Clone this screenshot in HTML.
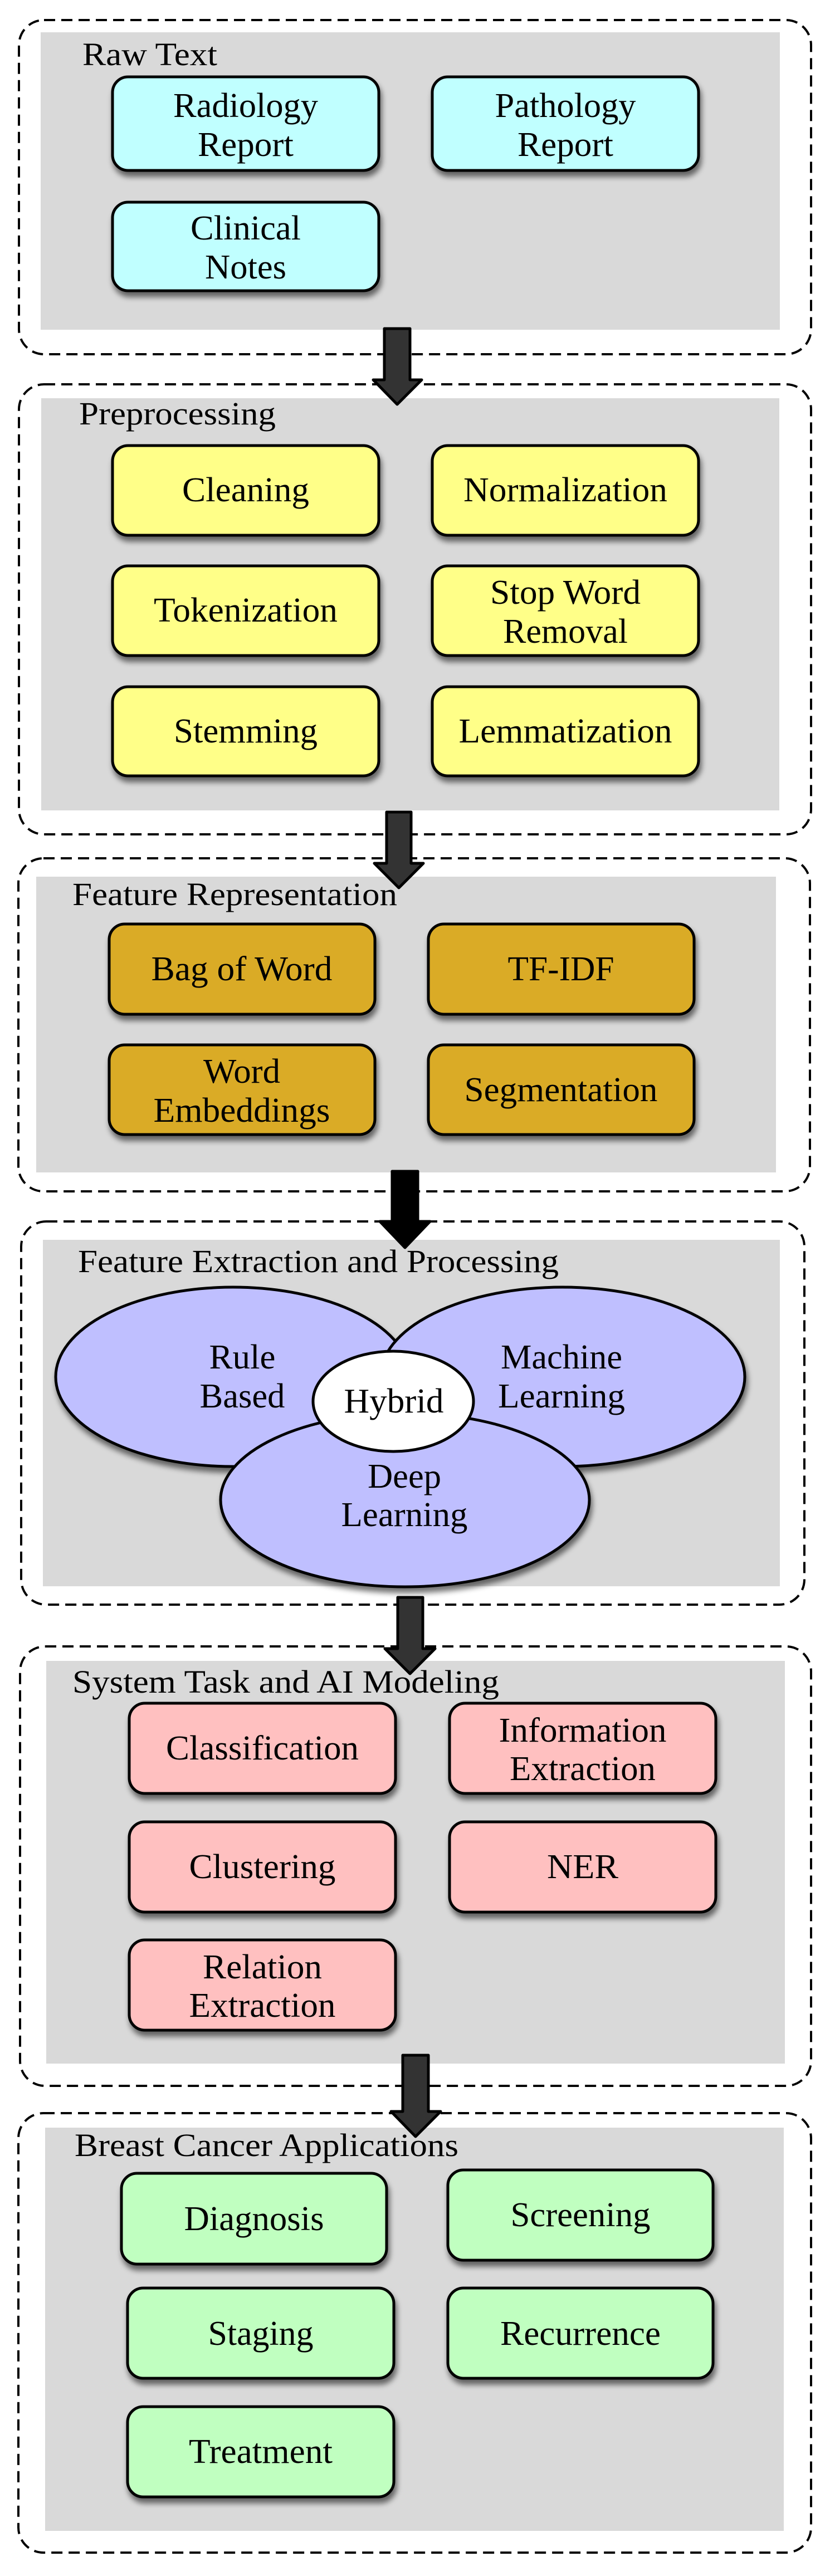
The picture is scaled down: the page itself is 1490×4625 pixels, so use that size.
<!DOCTYPE html>
<html><head><meta charset="utf-8"><style>
html,body{margin:0;padding:0;background:#fff;}
svg{display:block;}
text{font-family:"Liberation Serif","Times New Roman",Times,serif;fill:#000;}
.t{font-size:58px;}
.n{font-size:62px;text-anchor:middle;}
</style></head><body>
<svg width="1490" height="4625" viewBox="0 0 1490 4625" xmlns="http://www.w3.org/2000/svg">
<defs>
<filter id="sh" x="-10%" y="-10%" width="120%" height="140%">
<feGaussianBlur in="SourceAlpha" stdDeviation="5"/>
<feOffset dx="3" dy="9" result="b"/>
<feComponentTransfer><feFuncA type="linear" slope="0.55"/></feComponentTransfer>
<feMerge><feMergeNode/><feMergeNode in="SourceGraphic"/></feMerge>
</filter>
</defs>
<g fill="#d9d9d9">
<rect x="73" y="58" width="1327" height="534"/>
<rect x="74" y="715" width="1325" height="740"/>
<rect x="65" y="1574" width="1328" height="531"/>
<rect x="77" y="2226" width="1323" height="622"/>
<rect x="83" y="2982" width="1326" height="723"/>
<rect x="81" y="3820" width="1326" height="724"/>
</g>
<g fill="none" stroke="#000" stroke-width="4" stroke-dasharray="20 11">
<rect x="34" y="36" width="1422" height="600" rx="45"/>
<rect x="34" y="690" width="1422" height="808" rx="45"/>
<rect x="33" y="1541" width="1421" height="598" rx="45"/>
<rect x="38" y="2193" width="1406" height="688" rx="45"/>
<rect x="36" y="2956" width="1420" height="789" rx="45"/>
<rect x="33" y="3794" width="1423" height="789" rx="45"/>
</g>
<text class="t" x="148" y="117" textLength="242" lengthAdjust="spacingAndGlyphs">Raw Text</text>
<text class="t" x="142" y="762" textLength="353" lengthAdjust="spacingAndGlyphs">Preprocessing</text>
<text class="t" x="130" y="1625" textLength="583" lengthAdjust="spacingAndGlyphs">Feature Representation</text>
<text class="t" x="140" y="2284" textLength="863" lengthAdjust="spacingAndGlyphs">Feature Extraction and Processing</text>
<text class="t" x="130" y="3039" textLength="766" lengthAdjust="spacingAndGlyphs">System Task and AI Modeling</text>
<text class="t" x="134" y="3871" textLength="689" lengthAdjust="spacingAndGlyphs">Breast Cancer Applications</text>
<g stroke="#000" stroke-width="5" filter="url(#sh)">
<g fill="#c0ffff">
<rect x="202" y="138" width="478" height="168" rx="28"/>
<rect x="776" y="138" width="478" height="168" rx="28"/>
<rect x="202" y="363" width="478" height="159" rx="28"/>
</g>
<g fill="#ffff88">
<rect x="202" y="800" width="478" height="161" rx="28"/>
<rect x="776" y="800" width="478" height="161" rx="28"/>
<rect x="202" y="1016" width="478" height="161" rx="28"/>
<rect x="776" y="1016" width="478" height="161" rx="28"/>
<rect x="202" y="1233" width="478" height="160" rx="28"/>
<rect x="776" y="1233" width="478" height="160" rx="28"/>
</g>
<g fill="#daab28">
<rect x="196" y="1659" width="477" height="162" rx="28"/>
<rect x="769" y="1659" width="477" height="162" rx="28"/>
<rect x="196" y="1876" width="477" height="161" rx="28"/>
<rect x="769" y="1876" width="477" height="161" rx="28"/>
</g>
<g fill="#bfbfff">
<ellipse cx="418" cy="2472" rx="318" ry="161"/>
<ellipse cx="1010" cy="2472" rx="327" ry="161"/>
<ellipse cx="727" cy="2693" rx="331" ry="156"/>
</g>
<ellipse cx="706" cy="2516" rx="144" ry="90" fill="#fff"/>
<g fill="#ffc0c0">
<rect x="232" y="3058" width="478" height="162" rx="28"/>
<rect x="807" y="3058" width="478" height="162" rx="28"/>
<rect x="232" y="3271" width="478" height="162" rx="28"/>
<rect x="807" y="3271" width="478" height="162" rx="28"/>
<rect x="232" y="3483" width="478" height="162" rx="28"/>
</g>
<g fill="#c0ffc0">
<rect x="218" y="3902" width="476" height="163" rx="28"/>
<rect x="804" y="3896" width="476" height="162" rx="28"/>
<rect x="229" y="4108" width="478" height="162" rx="28"/>
<rect x="804" y="4108" width="476" height="162" rx="28"/>
<rect x="229" y="4321" width="478" height="162" rx="28"/>
</g>
</g>
<g>
<text class="n" x="441" y="210" textLength="260" lengthAdjust="spacingAndGlyphs">Radiology</text><text class="n" x="441" y="280" textLength="172" lengthAdjust="spacingAndGlyphs">Report</text>
<text class="n" x="1015" y="210" textLength="253" lengthAdjust="spacingAndGlyphs">Pathology</text><text class="n" x="1015" y="280" textLength="172" lengthAdjust="spacingAndGlyphs">Report</text>
<text class="n" x="441" y="430" textLength="198" lengthAdjust="spacingAndGlyphs">Clinical</text><text class="n" x="441" y="500" textLength="146" lengthAdjust="spacingAndGlyphs">Notes</text>
<text class="n" x="441" y="900" textLength="228" lengthAdjust="spacingAndGlyphs">Cleaning</text>
<text class="n" x="1015" y="900" textLength="366" lengthAdjust="spacingAndGlyphs">Normalization</text>
<text class="n" x="441" y="1116" textLength="330" lengthAdjust="spacingAndGlyphs">Tokenization</text>
<text class="n" x="1015" y="1084" textLength="270" lengthAdjust="spacingAndGlyphs">Stop Word</text><text class="n" x="1015" y="1154" textLength="224" lengthAdjust="spacingAndGlyphs">Removal</text>
<text class="n" x="441" y="1333" textLength="258" lengthAdjust="spacingAndGlyphs">Stemming</text>
<text class="n" x="1015" y="1333" textLength="383" lengthAdjust="spacingAndGlyphs">Lemmatization</text>
<text class="n" x="434" y="1760" textLength="325" lengthAdjust="spacingAndGlyphs">Bag of Word</text>
<text class="n" x="1007" y="1760" textLength="191" lengthAdjust="spacingAndGlyphs">TF-IDF</text>
<text class="n" x="434" y="1944" textLength="138" lengthAdjust="spacingAndGlyphs">Word</text><text class="n" x="434" y="2014" textLength="317" lengthAdjust="spacingAndGlyphs">Embeddings</text>
<text class="n" x="1007" y="1977" textLength="347" lengthAdjust="spacingAndGlyphs">Segmentation</text>
<text class="n" x="435" y="2457" textLength="119" lengthAdjust="spacingAndGlyphs">Rule</text><text class="n" x="435" y="2527" textLength="153" lengthAdjust="spacingAndGlyphs">Based</text>
<text class="n" x="1008" y="2457" textLength="218" lengthAdjust="spacingAndGlyphs">Machine</text><text class="n" x="1008" y="2527" textLength="228" lengthAdjust="spacingAndGlyphs">Learning</text>
<text class="n" x="707" y="2536" textLength="179" lengthAdjust="spacingAndGlyphs">Hybrid</text>
<text class="n" x="726" y="2671" textLength="132" lengthAdjust="spacingAndGlyphs">Deep</text><text class="n" x="726" y="2740" textLength="227" lengthAdjust="spacingAndGlyphs">Learning</text>
<text class="n" x="471" y="3159" textLength="346" lengthAdjust="spacingAndGlyphs">Classification</text>
<text class="n" x="1046" y="3127" textLength="301" lengthAdjust="spacingAndGlyphs">Information</text><text class="n" x="1046" y="3196" textLength="262" lengthAdjust="spacingAndGlyphs">Extraction</text>
<text class="n" x="471" y="3372" textLength="263" lengthAdjust="spacingAndGlyphs">Clustering</text>
<text class="n" x="1046" y="3372" textLength="128" lengthAdjust="spacingAndGlyphs">NER</text>
<text class="n" x="471" y="3552" textLength="214" lengthAdjust="spacingAndGlyphs">Relation</text><text class="n" x="471" y="3621" textLength="263" lengthAdjust="spacingAndGlyphs">Extraction</text>
<text class="n" x="456" y="4004" textLength="251" lengthAdjust="spacingAndGlyphs">Diagnosis</text>
<text class="n" x="1042" y="3997" textLength="251" lengthAdjust="spacingAndGlyphs">Screening</text>
<text class="n" x="468" y="4210" textLength="189" lengthAdjust="spacingAndGlyphs">Staging</text>
<text class="n" x="1042" y="4210" textLength="288" lengthAdjust="spacingAndGlyphs">Recurrence</text>
<text class="n" x="468" y="4422" textLength="258" lengthAdjust="spacingAndGlyphs">Treatment</text>
</g>
<g stroke="#000" stroke-width="5" stroke-linejoin="round">
<polygon fill="#333" points="690,590 736,590 736,682 757,682 713,726 670,682 690,682"/>
<polygon fill="#333" points="694,1458 738,1458 738,1550 760,1550 716,1594 672,1550 694,1550"/>
<polygon fill="#000" points="704,2103 750,2103 750,2193 772,2193 727,2240 682,2193 704,2193"/>
<polygon fill="#333" points="714,2868 759,2868 759,2960 781,2960 736,3005 691,2960 714,2960"/>
<polygon fill="#333" points="723,3690 769,3690 769,3791 791,3791 746,3836 702,3791 723,3791"/>
</g>
</svg>
</body></html>
